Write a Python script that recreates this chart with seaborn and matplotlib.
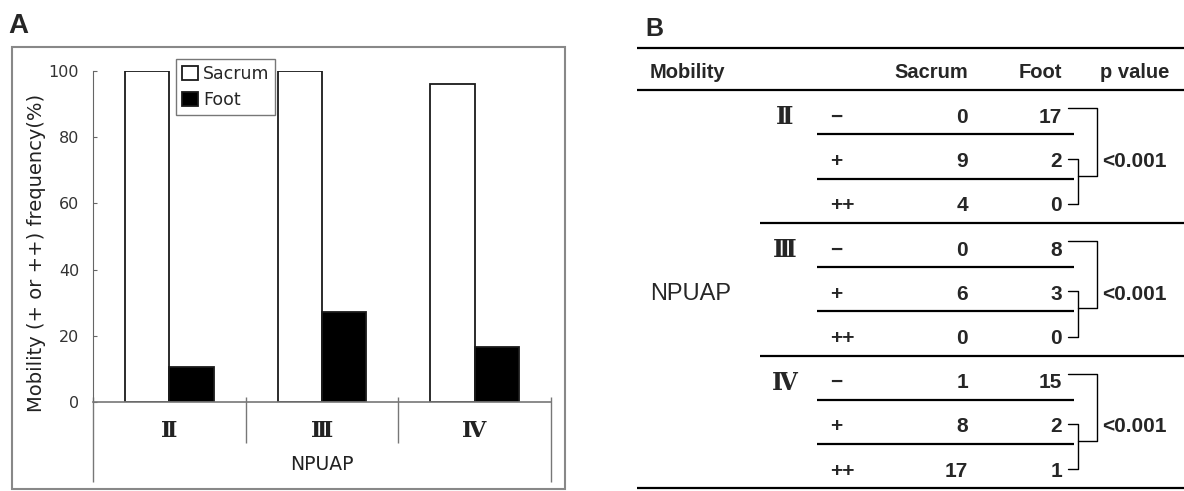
import pandas as pd
import matplotlib.pyplot as plt
import seaborn as sns
from matplotlib.patches import Rectangle

# data
grades = ['Ⅱ', 'Ⅲ', 'Ⅳ']
sites = ['Sacrum', 'Foot']
sacrum_pct = [100, 100, 96.2]
foot_pct = [10.5, 27.3, 16.7]

mobility = ['−', '+', '++']
sacrum_n = [[0, 9, 4], [0, 6, 0], [1, 8, 17]]
foot_n = [[17, 2, 0], [8, 3, 0], [15, 2, 1]]
p_values = ['<0.001', '<0.001', '<0.001']

df = pd.DataFrame({
    'grade': grades * 2,
    'site': ['Sacrum'] * 3 + ['Foot'] * 3,
    'pct': sacrum_pct + foot_pct,
})

sns.set_style('white')
plt.rcParams['font.family'] = ['DejaVu Sans']

W, H = 1184, 491
fig = plt.figure(figsize=(W / 100, H / 100), dpi=100)
roman = ['DejaVu Serif', 'Noto Sans CJK JP']
tfont = ['Liberation Sans', 'DejaVu Sans']

# ---------- panel A : bar chart ----------
ax = fig.add_axes([93 / W, 1 - 402 / H, (551 - 93) / W, (402 - 71) / H])
sns.barplot(data=df, x='grade', y='pct', hue='site', order=grades, hue_order=sites,
            palette={'Sacrum': 'white', 'Foot': 'black'}, edgecolor='#1a1a1a',
            linewidth=1.3, width=0.58, errorbar=None, ax=ax)
ax.set_xlim(-0.5, 2.5)
ax.set_ylim(0, 100)
ax.set_yticks([0, 20, 40, 60, 80, 100])
ax.tick_params(axis='y', direction='in', length=3, width=0.8, color='#666',
               labelsize=11.5, labelcolor='#333', pad=10, left=True)
ax.tick_params(axis='x', length=0, pad=13)
for lab in ax.get_xticklabels():
    lab.set_family(roman)
    lab.set_fontsize(16)
    lab.set_fontweight('bold')
    lab.set_color('#222')
for s in ['top', 'right']:
    ax.spines[s].set_visible(False)
ax.spines['left'].set_color('#666')
ax.spines['bottom'].set_color('#777')
ax.spines['bottom'].set_linewidth(1.2)

ax.set_xlabel('NPUAP', fontsize=13.5, color='#222', labelpad=9)
ax.set_ylabel('Mobility (+ or ++) frequency(%)', fontsize=14, color='#222')
ax.yaxis.set_label_coords(-0.103, 0.45)

# category dividers under the axis
tr = ax.get_xaxis_transform()
ax.vlines([0.5, 1.5], 0.015, -0.124, transform=tr, colors='#777', lw=1, clip_on=False)
ax.vlines([-0.5, 2.5], 0.015, -0.242, transform=tr, colors='#777', lw=1, clip_on=False)

handles, labels = ax.get_legend_handles_labels()
ax.legend(handles, labels, loc='upper left', bbox_to_anchor=(176 / W, 1 - 59 / H),
          bbox_transform=fig.transFigure, borderaxespad=0, fontsize=12.5,
          frameon=True, fancybox=False, edgecolor='#777', framealpha=1,
          handlelength=0.9, handleheight=0.9, handletextpad=0.3,
          labelspacing=0.45, borderpad=0.35)

fig.patches.append(Rectangle((12 / W, 1 - 489 / H), 553 / W, 442 / H,
                             transform=fig.transFigure, fill=False,
                             edgecolor='#888', lw=1.5))
fig.text(8 / W, 1 - 33 / H, 'A', fontsize=20, fontweight='bold', va='baseline', family=tfont)

# ---------- panel B : table ----------
tb = fig.add_axes([600 / W, 0, 584 / W, 1])
tb.set_xlim(600, W)
tb.set_ylim(H, 0)
tb.axis('off')

rule0, row_h = 90, 44.25
centers = [rule0 + (i + 1) * row_h - 17 for i in range(9)]

tb.hlines([48, rule0], 637, W, colors='black', lw=1.6)
for i in range(9):
    y = rule0 + (i + 1) * row_h
    if i == 8:
        tb.hlines(y, 637, W, colors='black', lw=1.6)
    elif i % 3 == 2:
        tb.hlines(y, 760, W, colors='black', lw=1.6)
    else:
        tb.hlines(y, 817, 1074, colors='black', lw=1.6)

hy = 72
tb.text(650, hy, 'Mobility', ha='left', va='center', fontsize=14.5, fontweight='bold', family=tfont)
tb.text(968, hy, 'Sacrum', ha='right', va='center', fontsize=14.5, fontweight='bold', family=tfont)
tb.text(1062, hy, 'Foot', ha='right', va='center', fontsize=14.5, fontweight='bold', family=tfont)
tb.text(1100, hy, 'p value', ha='left', va='center', fontsize=14.5, fontweight='bold', family=tfont)

tb.text(650, centers[4], 'NPUAP', ha='left', va='center', fontsize=17, family=tfont)

for g, grade in enumerate(grades):
    c = centers[3 * g:3 * g + 3]
    tb.text(785, c[0], grade, ha='center', va='center', fontsize=17, fontweight='bold',
            family=roman)
    for r in range(3):
        tb.text(830, c[r], mobility[r], ha='left', va='center', fontsize=15,
                fontweight='bold', family=tfont)
        tb.text(968, c[r], str(sacrum_n[g][r]), ha='right', va='center', fontsize=15,
                fontweight='bold', family=tfont)
        tb.text(1062, c[r], str(foot_n[g][r]), ha='right', va='center', fontsize=15,
                fontweight='bold', family=tfont)
    # brackets
    xs, xi, xo = 1068, 1078, 1097
    tb.plot([xs, xo, xo, xi], [c[0] - 9, c[0] - 9, c[1] + 14, c[1] + 14], color='black', lw=1)
    tb.plot([xs, xi, xi, xs], [c[1] - 3, c[1] - 3, c[2] - 2, c[2] - 2], color='black', lw=1)
    tb.text(1102, c[1], p_values[g], ha='left', va='center', fontsize=15,
            fontweight='bold', family=tfont)

fig.text(645 / W, 1 - 36 / H, 'B', fontsize=18, fontweight='bold', va='baseline', family=tfont)

fig.savefig('out.png', dpi=100)
